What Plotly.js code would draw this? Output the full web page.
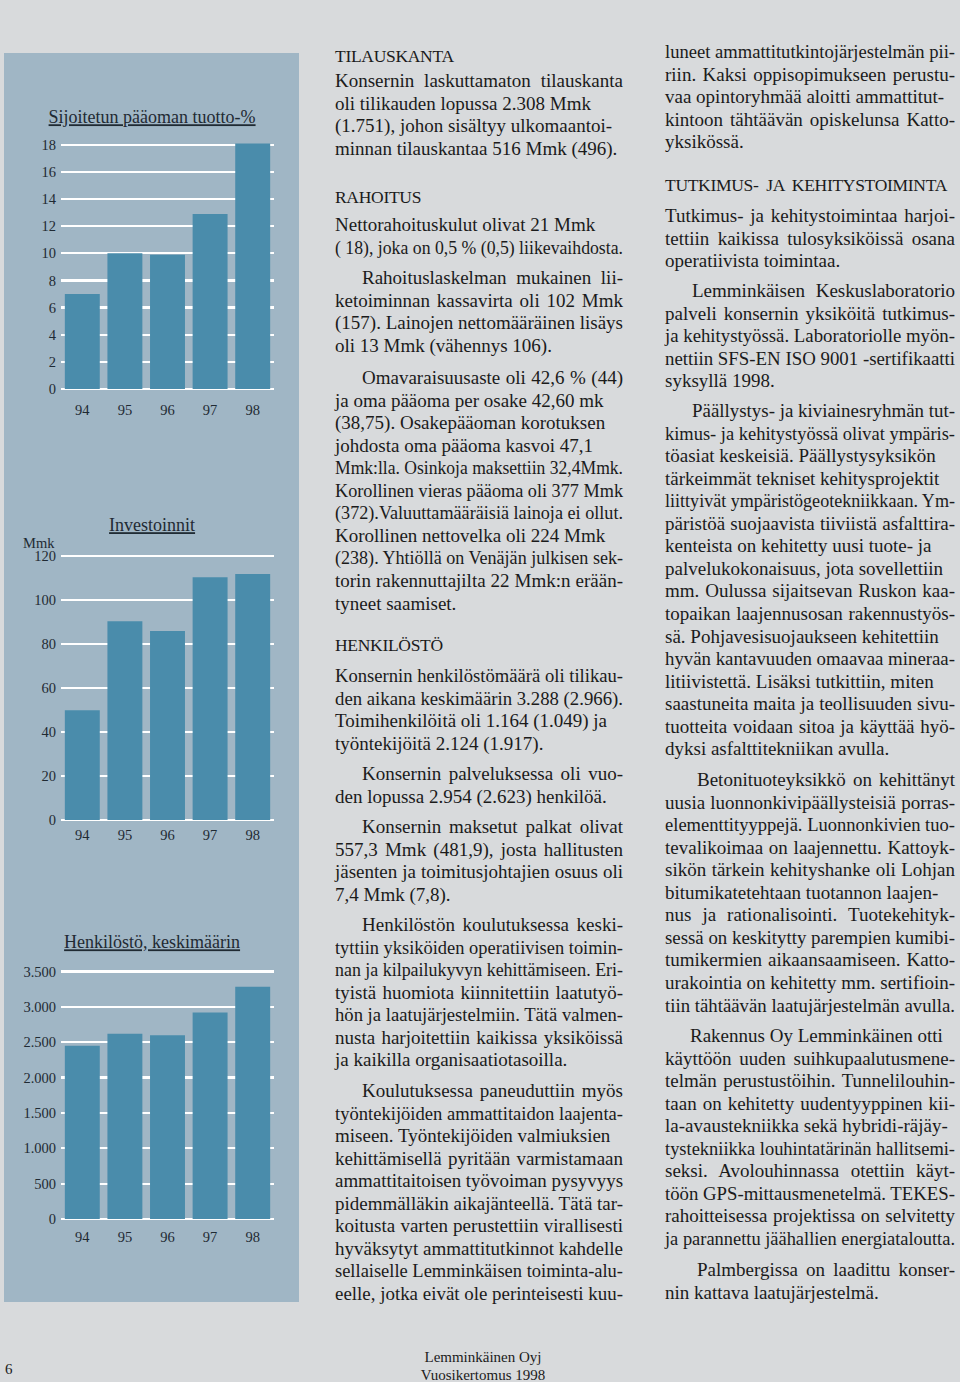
<!DOCTYPE html>
<html>
<head>
<meta charset="utf-8">
<script src="https://cdn.plot.ly/plotly-3.0.1.min.js"></script>
<style>
  html, body { margin:0; padding:0; }
  body { width:960px; height:1382px; background:#d8dadc; position:relative; overflow:hidden;
         font-family:"Liberation Serif","Times New Roman",serif; color:#1b1b1b; }
  #panel { position:absolute; left:4px; top:53px; width:295px; height:1249px; background:#a0b6c5; }
  .chart { position:absolute; left:4px; width:295px; }
  .ln { position:absolute; font-size:19px; line-height:22px; height:22px; white-space:nowrap; }
  .hd { font-size:17.5px; letter-spacing:-0.3px; }
  .ft { position:absolute; font-size:15px; line-height:18px; white-space:nowrap; }
</style>
</head>
<body>
<div id="panel"></div>
<div id="c1" class="chart" style="top:53px;height:390px;"></div>
<div id="c2" class="chart" style="top:443px;height:420px;"></div>
<div id="c3" class="chart" style="top:863px;height:439px;"></div>
<div id="text"></div>
<div class="ft" id="pg" style="left:5px;top:1360px;">6</div>
<div class="ft" id="f1" style="left:0;width:966px;text-align:center;top:1348px;">Lemminkäinen Oyj</div>
<div class="ft" id="f2" style="left:0;width:966px;text-align:center;top:1366px;">Vuosikertomus 1998</div>
<script>
// ---------- chart data ----------
const years = ["94", "95", "96", "97", "98"];
const roceTitle = "Sijoitetun pääoman tuotto-%";
const roceValues = [7.0, 10.0, 9.9, 12.9, 18.1];
const investTitle = "Investoinnit";
const investUnit = "Mmk";
const investValues = [50, 90.5, 86, 110.5, 112];
const staffTitle = "Henkilöstö, keskimäärin";
const staffValues = [2450, 2620, 2600, 2920, 3285];

// ---------- styling ----------
const BAR = "#4a8cab";
const INK = "#1f2a33";
const FONT = "Liberation Serif, Times New Roman, serif";

function makeChart(id, height, values, title, titleY, yRange, dtick, margin, xStand, extra) {
  const layout = {
    width: 295, height: height,
    margin: margin,
    paper_bgcolor: "rgba(0,0,0,0)", plot_bgcolor: "rgba(0,0,0,0)",
    bargap: 0.18, showlegend: false,
    separators: ",.",
    font: { family: FONT, color: INK },
    title: { text: "<u>" + title + "</u>", font: { family: FONT, size: 18, color: INK },
             x: 0.502, xref: "container", xanchor: "center",
             y: titleY, yref: "container", yanchor: "middle" },
    xaxis: { type: "category", showgrid: false, zeroline: false, showline: false, ticks: "",
             tickfont: { family: FONT, size: 14.5, color: INK }, ticklabelstandoff: xStand, fixedrange: true },
    yaxis: { range: yRange, dtick: dtick, tick0: 0, showline: false, ticks: "",
             gridcolor: "#ffffff", gridwidth: 2.2, zeroline: true, zerolinecolor: "#ffffff", zerolinewidth: 2.2,
             tickfont: { family: FONT, size: 14.5, color: INK }, ticklabelstandoff: 4, fixedrange: true },
    annotations: []
  };
  if (extra) extra(layout);
  Plotly.newPlot(id, [{ type: "bar", x: years, y: values, marker: { color: BAR, line: { width: 0 } },
                        hoverinfo: "none" }], layout, { staticPlot: true, displayModeBar: false });
}

makeChart("c1", 390, roceValues, roceTitle, 0.836, [0, 18.5], 2, { l: 57, r: 25, t: 85, b: 54, pad: 0 }, 10);
makeChart("c2", 420, investValues, investTitle, 0.805, [0, 122], 20, { l: 57, r: 25, t: 108.6, b: 43, pad: 0 }, 4,
  (L) => { L.annotations.push({ text: investUnit, xref: "paper", x: 0, xanchor: "right", xshift: -4,
                                yref: "y", y: 120, yanchor: "middle", yshift: 13, showarrow: false,
                                font: { family: FONT, size: 14.5, color: INK } }); });
makeChart("c3", 439, staffValues, staffTitle, 0.82, [0, 3550], 500, { l: 57, r: 25, t: 104.8, b: 83.3, pad: 0 }, 7,
  (L) => { L.yaxis.tickformat = ",d"; });

// ---------- text columns ----------
// "~" = ragged (not justified) line
const midCol = [
  { h: "TILAUSKANTA", y: 57 },
  { y: 82, ind: 0, lines: ["Konsernin laskuttamaton tilauskanta", "~oli tilikauden lopussa 2.308 Mmk", "~(1.751), johon sisältyy ulkomaantoi-", "minnan tilauskantaa 516 Mmk (496)."] },
  { h: "RAHOITUS", y: 198 },
  { y: 226, ind: 0, lines: ["~Nettorahoituskulut olivat 21 Mmk", "( 18), joka on 0,5 % (0,5) liikevaihdosta."] },
  { y: 279, ind: 27, lines: ["Rahoituslaskelman mukainen lii-", "ketoiminnan kassavirta oli 102 Mmk", "(157). Lainojen nettomääräinen lisäys", "oli 13 Mmk (vähennys 106)."] },
  { y: 379, ind: 27, lines: ["Omavaraisuusaste oli 42,6 % (44)", "~ja oma pääoma per osake 42,60 mk", "~(38,75). Osakepääoman korotuksen", "~johdosta oma pääoma kasvoi 47,1", "Mmk:lla. Osinkoja maksettiin 32,4Mmk.", "Korollinen vieras pääoma oli 377 Mmk", "(372).Valuuttamääräisiä lainoja ei ollut.", "~Korollinen nettovelka oli 224 Mmk", "(238). Yhtiöllä on Venäjän julkisen sek-", "torin rakennuttajilta 22 Mmk:n erään-", "tyneet saamiset."] },
  { h: "HENKILÖSTÖ", y: 646 },
  { y: 677, ind: 0, lines: ["Konsernin henkilöstömäärä oli tilikau-", "~den aikana keskimäärin 3.288 (2.966).", "~Toimihenkilöitä oli 1.164 (1.049) ja", "työntekijöitä 2.124 (1.917)."] },
  { y: 775, ind: 27, lines: ["Konsernin palveluksessa oli vuo-", "den lopussa 2.954 (2.623) henkilöä."] },
  { y: 828, ind: 27, lines: ["Konsernin maksetut palkat olivat", "557,3 Mmk (481,9), josta hallitusten", "jäsenten ja toimitusjohtajien osuus oli", "7,4 Mmk (7,8)."] },
  { y: 926, ind: 27, lines: ["Henkilöstön koulutuksessa keski-", "tyttiin yksiköiden operatiivisen toimin-", "nan ja kilpailukyvyn kehittämiseen. Eri-", "tyistä huomiota kiinnitettiin laatutyö-", "hön ja laatujärjestelmiin. Tätä valmen-", "nusta harjoitettiin kaikissa yksiköissä", "ja kaikilla organisaatiotasoilla."] },
  { y: 1092, ind: 27, lines: ["Koulutuksessa paneuduttiin myös", "työntekijöiden ammattitaidon laajenta-", "~miseen. Työntekijöiden valmiuksien", "kehittämisellä pyritään varmistamaan", "ammattitaitoisen työvoiman pysyvyys", "pidemmälläkin aikajänteellä. Tätä tar-", "koitusta varten perustettiin virallisesti", "hyväksytyt ammattitutkinnot kahdelle", "sellaiselle Lemminkäisen toiminta-alu-", "eelle, jotka eivät ole perinteisesti kuu-"] }
];
const rightCol = [
  { y: 53, ind: 0, lines: ["luneet ammattitutkintojärjestelmän pii-", "riin. Kaksi oppisopimukseen perustu-", "~vaa opintoryhmää aloitti ammattitut-", "kintoon tähtäävän opiskelunsa Katto-", "yksikössä."] },
  { h: "TUTKIMUS- JA KEHITYSTOIMINTA", y: 186, hw: 282 },
  { y: 217, ind: 0, lines: ["Tutkimus- ja kehitystoimintaa harjoi-", "tettiin kaikissa tulosyksiköissä osana", "operatiivista toimintaa."] },
  { y: 292, ind: 27, lines: ["Lemminkäisen Keskuslaboratorio", "palveli konsernin yksiköitä tutkimus-", "ja kehitystyössä. Laboratoriolle myön-", "~nettiin SFS-EN ISO 9001 -sertifikaatti", "syksyllä 1998."] },
  { y: 412, ind: 27, lines: ["Päällystys- ja kiviainesryhmän tut-", "kimus- ja kehitystyössä olivat ympäris-", "~töasiat keskeisiä. Päällystysyksikön", "~tärkeimmät tekniset kehitysprojektit", "liittyivät ympäristögeotekniikkaan. Ym-", "päristöä suojaavista tiiviistä asfalttira-", "~kenteista on kehitetty uusi tuote- ja", "~palvelukokonaisuus, jota sovellettiin", "mm. Oulussa sijaitsevan Ruskon kaa-", "topaikan laajennusosan rakennustyös-", "~sä. Pohjavesisuojaukseen kehitettiin", "hyvän kantavuuden omaavaa mineraa-", "~litiivistettä. Lisäksi tutkittiin, miten", "saastuneita maita ja teollisuuden sivu-", "tuotteita voidaan sitoa ja käyttää hyö-", "dyksi asfalttitekniikan avulla."] },
  { y: 781, ind: 32, lines: ["Betonituoteyksikkö on kehittänyt", "uusia luonnonkivipäällysteisiä porras-", "elementtityyppejä. Luonnonkivien tuo-", "tevalikoimaa on laajennettu. Kattoyk-", "sikön tärkein kehityshanke oli Lohjan", "~bitumikatetehtaan tuotannon laajen-", "nus ja rationalisointi. Tuotekehityk-", "sessä on keskitytty parempien kumibi-", "tumikermien aikaansaamiseen. Katto-", "urakointia on kehitetty mm. sertifioin-", "tiin tähtäävän laatujärjestelmän avulla."] },
  { y: 1037, ind: 25, lines: ["~Rakennus Oy Lemminkäinen otti", "käyttöön uuden suihkupaalutusmene-", "telmän perustustöihin. Tunnelilouhin-", "taan on kehitetty uudentyyppinen kii-", "~la-avaustekniikka sekä hybridi-räjäy-", "tystekniikka louhintatärinän hallitsemi-", "seksi. Avolouhinnassa otettiin käyt-", "~töön GPS-mittausmenetelmä. TEKES-", "rahoitteisessa projektissa on selvitetty", "ja parannettu jäähallien energiataloutta."] },
  { y: 1271, ind: 32, lines: ["Palmbergissa on laadittu konser-", "nin kattava laatujärjestelmä."] }
];

const LINE_STEP = 22.55;
const host = document.getElementById("text");

function placeLine(text, x, yc, w, justify, cls) {
  const d = document.createElement("div");
  d.className = "ln" + (cls ? " " + cls : "");
  d.textContent = text;
  d.style.left = x + "px";
  d.style.top = (yc - 12) + "px";
  host.appendChild(d);
  const nat = d.getBoundingClientRect().width;
  if (nat > w) {
    d.style.transformOrigin = "0 0";
    d.style.transform = "scaleX(" + (w / nat) + ")";
  } else if (justify) {
    d.style.whiteSpace = "normal";
    d.style.width = w + "px";
    d.style.textAlign = "justify";
    d.style.textAlignLast = "justify";
  }
}

function layoutCol(col, x0, right) {
  col.forEach(b => {
    if (b.h) {
      placeLine(b.h, x0, b.y, b.hw || (right - x0), !!b.hw, "hd");
      return;
    }
    b.lines.forEach((raw, i) => {
      const rag = raw.startsWith("~");
      const t = rag ? raw.slice(1) : raw;
      const last = i === b.lines.length - 1;
      const x = x0 + (i === 0 ? b.ind : 0);
      placeLine(t, x, b.y + i * LINE_STEP, right - x, !rag && !last);
    });
  });
}
layoutCol(midCol, 335, 623);
layoutCol(rightCol, 665, 955);
</script>
</body>
</html>
